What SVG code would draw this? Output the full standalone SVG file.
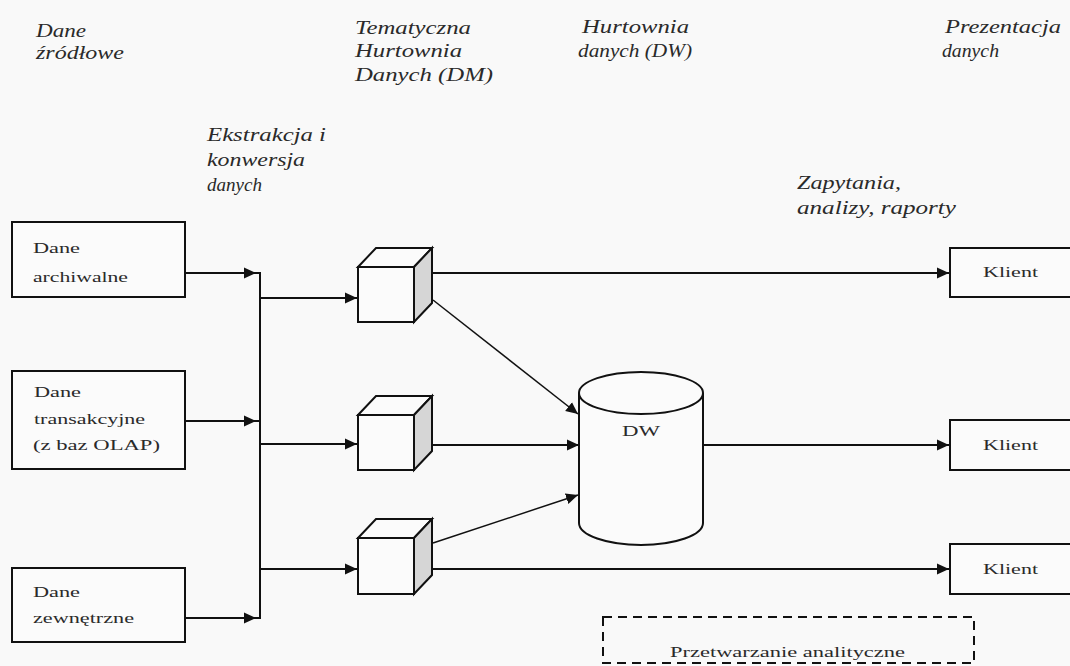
<svg xmlns="http://www.w3.org/2000/svg" width="1070" height="666" viewBox="0 0 1070 666">
<defs>
<style>
.bg{fill:#f9f9f9}
.hd{font-family:"Liberation Serif","Times New Roman",serif;font-style:italic;font-size:18px;fill:#2a2a2a}
.tx{font-family:"Liberation Serif","Times New Roman",serif;font-size:14px;fill:#2a2a2a}
.box{fill:#fbfbfb;stroke:#111;stroke-width:2}
.ln{fill:none;stroke:#111;stroke-width:2}
.dg{fill:none;stroke:#111;stroke-width:1.5}
.face{fill:#fbfbfb;stroke:#111;stroke-width:2;stroke-linejoin:miter}
.side{fill:#d6d6d6;stroke:#111;stroke-width:2}
.dash{fill:none;stroke:#111;stroke-width:2;stroke-dasharray:9,6}
</style>
<marker id="ah" markerUnits="userSpaceOnUse" markerWidth="13" markerHeight="12" refX="12" refY="6" orient="auto">
<path d="M0,0.5 L12,6 L0,11.5 z" fill="#111"/>
</marker>
</defs>
<rect class="bg" x="0" y="0" width="1070" height="666"/>

<g id="headings">
<text class="hd" x="36" y="37" textLength="50" lengthAdjust="spacingAndGlyphs">Dane</text>
<text class="hd" x="36" y="59" textLength="88" lengthAdjust="spacingAndGlyphs">źródłowe</text>
<text class="hd" x="355" y="34" textLength="116" lengthAdjust="spacingAndGlyphs">Tematyczna</text>
<text class="hd" x="355" y="57" textLength="107" lengthAdjust="spacingAndGlyphs">Hurtownia</text>
<text class="hd" x="355" y="81" textLength="138" lengthAdjust="spacingAndGlyphs">Danych (DM)</text>
<text class="hd" x="582" y="33" textLength="107" lengthAdjust="spacingAndGlyphs">Hurtownia</text>
<text class="hd" x="578" y="57" textLength="114" lengthAdjust="spacingAndGlyphs">danych (DW)</text>
<text class="hd" x="945" y="33" textLength="116" lengthAdjust="spacingAndGlyphs">Prezentacja</text>
<text class="hd" x="942" y="57" textLength="57" lengthAdjust="spacingAndGlyphs">danych</text>
<text class="hd" x="207" y="141" textLength="119" lengthAdjust="spacingAndGlyphs">Ekstrakcja i</text>
<text class="hd" x="207" y="166" textLength="98" lengthAdjust="spacingAndGlyphs">konwersja</text>
<text class="hd" x="207" y="191" textLength="55" lengthAdjust="spacingAndGlyphs">danych</text>
<text class="hd" x="797" y="189" textLength="104" lengthAdjust="spacingAndGlyphs">Zapytania,</text>
<text class="hd" x="797" y="214" textLength="159" lengthAdjust="spacingAndGlyphs">analizy, raporty</text>
</g>

<g id="connectors">
<path class="ln" d="M185,273 H256" marker-end="url(#ah)"/>
<path class="ln" d="M185,421 H256" marker-end="url(#ah)"/>
<path class="ln" d="M185,618 H256" marker-end="url(#ah)"/>
<path class="ln" d="M255,273 H260 V618 H255 M255,421 H260"/>
<path class="ln" d="M260,298 H357" marker-end="url(#ah)"/>
<path class="ln" d="M260,444 H357" marker-end="url(#ah)"/>
<path class="ln" d="M260,569 H357" marker-end="url(#ah)"/>
<path class="ln" d="M432,273 H949" marker-end="url(#ah)"/>
<path class="ln" d="M432,445 H579" marker-end="url(#ah)"/>
<path class="ln" d="M703,445 H949" marker-end="url(#ah)"/>
<path class="ln" d="M432,569 H949" marker-end="url(#ah)"/>
<path class="dg" d="M433,300 L578,414" marker-end="url(#ah)"/>
<path class="dg" d="M433,543 L578,495" marker-end="url(#ah)"/>
</g>

<g id="src-archiwalne">
<rect class="box" x="12" y="222" width="173" height="75"/>
<text class="tx" x="33" y="253" textLength="47" lengthAdjust="spacingAndGlyphs">Dane</text>
<text class="tx" x="33" y="282" textLength="95" lengthAdjust="spacingAndGlyphs">archiwalne</text>
</g>
<g id="src-transakcyjne">
<rect class="box" x="12" y="371" width="173" height="98"/>
<text class="tx" x="34" y="397" textLength="47" lengthAdjust="spacingAndGlyphs">Dane</text>
<text class="tx" x="34" y="424" textLength="111" lengthAdjust="spacingAndGlyphs">transakcyjne</text>
<text class="tx" x="33" y="450" textLength="127" lengthAdjust="spacingAndGlyphs">(z baz OLAP)</text>
</g>
<g id="src-zewnetrzne">
<rect class="box" x="12" y="568" width="173" height="74"/>
<text class="tx" x="33" y="597" textLength="47" lengthAdjust="spacingAndGlyphs">Dane</text>
<text class="tx" x="33" y="623" textLength="101" lengthAdjust="spacingAndGlyphs">zewnętrzne</text>
</g>

<g id="dm1">
<polygon class="face" points="358,267 376,248 432,248 414,267"/>
<polygon class="side" points="414,267 432,248 432,303 414,322"/>
<rect class="face" x="358" y="267" width="56" height="55"/>
</g>
<g id="dm2">
<polygon class="face" points="358,415 376,396 432,396 414,415"/>
<polygon class="side" points="414,415 432,396 432,451 414,470"/>
<rect class="face" x="358" y="415" width="56" height="55"/>
</g>
<g id="dm3">
<polygon class="face" points="358,538 376,519 432,519 414,538"/>
<polygon class="side" points="414,538 432,519 432,575 414,594"/>
<rect class="face" x="358" y="538" width="56" height="56"/>
</g>

<g id="dw">
<path class="face" d="M579,393 V523 A62,22 0 0 0 703,523 V393"/>
<ellipse class="face" cx="641" cy="393" rx="62" ry="21"/>
<text class="tx" x="622" y="436" font-size="16" textLength="38" lengthAdjust="spacingAndGlyphs">DW</text>
</g>

<g id="klient1">
<rect class="box" x="950" y="248" width="126" height="49"/>
<text class="tx" x="983" y="277" textLength="55" lengthAdjust="spacingAndGlyphs">Klient</text>
</g>
<g id="klient2">
<rect class="box" x="950" y="420" width="126" height="50"/>
<text class="tx" x="983" y="450" textLength="55" lengthAdjust="spacingAndGlyphs">Klient</text>
</g>
<g id="klient3">
<rect class="box" x="950" y="544" width="126" height="50"/>
<text class="tx" x="983" y="574" textLength="55" lengthAdjust="spacingAndGlyphs">Klient</text>
</g>

<g id="olap">
<rect class="dash" x="603" y="617" width="371" height="46"/>
<text class="tx" x="670" y="657" textLength="235" lengthAdjust="spacingAndGlyphs">Przetwarzanie analityczne</text>
</g>
</svg>
